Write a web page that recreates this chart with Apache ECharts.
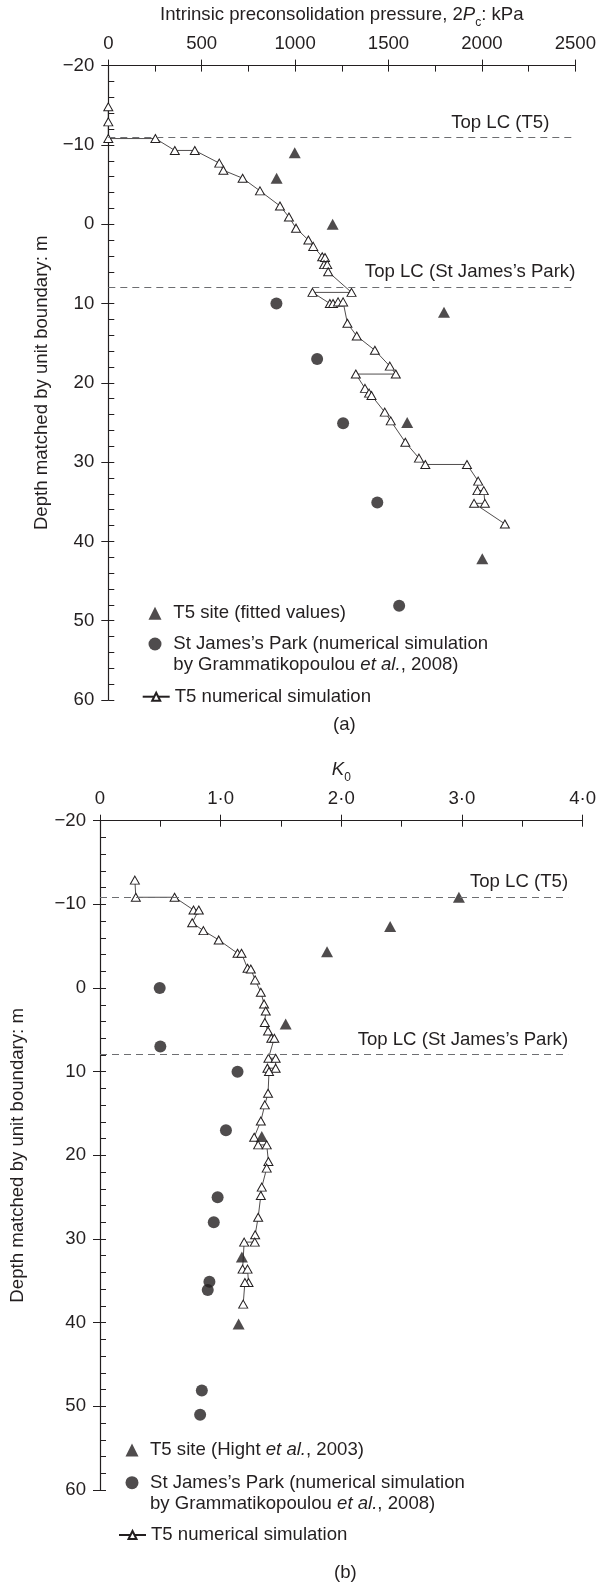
<!DOCTYPE html>
<html>
<head>
<meta charset="utf-8">
<script src="https://cdn.jsdelivr.net/npm/echarts@6/dist/echarts.min.js"></script>
<style>
  html, body { margin: 0; padding: 0; background: #fff; }
  #myChart { width: 599px; height: 1586px; }
</style>
</head>
<body>
<div id="myChart"></div>
<script>
// (a) intrinsic preconsolidation pressure 2Pc (kPa) vs depth (m)
const pcSimA = [[0,-14.8],[0,-12.9],[0,-10.8],[252,-10.8],[356,-9.3],[463,-9.3],[594,-7.7],[616,-6.8],[719,-5.8],[812,-4.2],
  [919,-2.3],[967,-0.9],[1005,0.5],[1071,2.0],[1097,2.8],[1145,4.1],[1160,4.2],[1155,5.1],[1172,5.1],[1177,6.0],
  [1302,8.6],[1093,8.6],[1186,10.0],[1203,10.0],[1230,9.8],[1257,9.8],[1280,12.5],[1330,14.1],[1427,15.9],[1507,17.9],
  [1539,18.9],[1325,18.9],[1374,20.7],[1396,21.3],[1409,21.6],[1480,23.7],[1512,24.8],[1590,27.5],[1663,29.5],[1697,30.3],
  [1920,30.3],[1980,32.4],[1976,33.6],[2010,33.6],[2016,35.2],[1958,35.2],[2123,37.8]];
const pcFitA = [[998,-9.0],[901,-5.8],[1201,0],[1797,11.1],[1600,25.0],[2002,42.2]];
const pcSjpA = [[900,10.0],[1118,17.0],[1257,25.1],[1440,35.1],[1557,48.1]];
const topLcA = [-11.0, 7.9];

// (b) K0 vs depth (m)
const k0SimB = [[0.289,-12.9],[0.297,-10.85],[0.618,-10.85],[0.775,-9.33],[0.819,-9.33],[0.764,-7.81],[0.857,-6.86],[0.984,-5.75],
  [1.140,-4.15],[1.173,-4.15],[1.223,-2.36],[1.250,-2.28],[1.286,-0.97],[1.333,0.5],[1.360,1.9],[1.374,2.74],[1.366,4.13],
  [1.393,5.13],[1.420,6.0],[1.445,6.0],[1.396,8.39],[1.456,8.39],[1.456,9.58],[1.388,9.58],[1.401,9.98],[1.393,12.57],
  [1.366,13.97],[1.333,15.9],[1.278,17.83],[1.311,18.75],[1.382,18.75],[1.396,20.74],[1.382,21.53],[1.341,23.8],[1.333,24.8],
  [1.311,27.4],[1.286,29.5],[1.283,30.37],[1.195,30.37],[1.182,33.6],[1.223,33.6],[1.231,35.2],[1.201,35.2],[1.187,37.78]];
const k0HightB = [[2.975,-10.85],[2.405,-7.34],[1.882,-4.35],[1.539,4.29],[1.341,17.75],[1.176,32.16],[1.149,40.17]];
const k0SjpB = [[0.495,0],[0.5,7.0],[1.140,10.0],[1.044,17.0],[0.975,25.0],[0.943,28.0],[0.907,35.1],[0.893,36.1],[0.844,48.1],[0.830,51.0]];
const topLcB = [-10.9, 7.9];

const depthTicks = [-20, 60, 10];
const pcTicks = [0, 2500, 500];
const k0Ticks = [0, 4, 1];

const FONT = 'Liberation Sans, Arial, sans-serif';
const FS = 18.6;
const INK = '#231f20';

const nSimA = 'T5 numerical simulation';
const nFitA = 'T5 site (fitted values)';
const nSjp = "St James\u2019s Park (numerical simulation\nby Grammatikopoulou {i|et al.}, 2008)";
const nHightB = 'T5 site (Hight {i|et al.}, 2003)';

function depthLabel(v) { return v < 0 ? '\u2212' + Math.abs(v) : String(v); }
function pcLabel(v) { return String(v); }
function k0Label(v) { return v === 0 ? '0' : v.toFixed(1).replace('.', '\u00b7'); }

function mainX(grid, t, fmt, name, rich) {
  return {
    gridIndex: grid, type: 'value', position: 'top', min: t[0], max: t[1], interval: t[2],
    axisLine: { show: true, onZero: false, lineStyle: { color: INK, width: 1.2 } },
    axisTick: { show: true, inside: true, length: 6, lineStyle: { color: INK, width: 1 } },
    minorTick: { show: true, splitNumber: 2, length: 6, lineStyle: { color: INK, width: 1 } },
    splitLine: { show: false },
    axisLabel: { fontSize: FS, fontFamily: FONT, color: INK, margin: 12, formatter: fmt },
    name: name, nameLocation: 'middle', nameGap: 37,
    nameTextStyle: { fontSize: FS, fontFamily: FONT, color: INK, rich: rich }
  };
}
function overX(grid, t) {
  return {
    gridIndex: grid, type: 'value', position: 'top', min: t[0], max: t[1], interval: t[2],
    axisLine: { show: false, onZero: false },
    axisTick: { show: true, inside: false, length: 6, lineStyle: { color: INK, width: 1 } },
    axisLabel: { show: false }, splitLine: { show: false }
  };
}
function mainY(grid, gap) {
  return {
    gridIndex: grid, type: 'value', position: 'left', inverse: true,
    min: depthTicks[0], max: depthTicks[1], interval: depthTicks[2],
    axisLine: { show: true, onZero: false, lineStyle: { color: INK, width: 1.2 } },
    axisTick: { show: true, inside: true, length: 6, lineStyle: { color: INK, width: 1 } },
    minorTick: { show: true, splitNumber: 5, length: 6, lineStyle: { color: INK, width: 1 } },
    splitLine: { show: false },
    axisLabel: { fontSize: FS, fontFamily: FONT, color: INK, margin: 14, formatter: depthLabel },
    name: 'Depth matched by unit boundary: m', nameLocation: 'middle', nameGap: gap, nameRotate: 90,
    nameTextStyle: { fontSize: FS, fontFamily: FONT, color: INK }
  };
}
function overY(grid) {
  return {
    gridIndex: grid, type: 'value', position: 'left', inverse: true,
    min: depthTicks[0], max: depthTicks[1], interval: depthTicks[2],
    axisLine: { show: false, onZero: false },
    axisTick: { show: true, inside: false, length: 7, lineStyle: { color: INK, width: 1 } },
    axisLabel: { show: false }, splitLine: { show: false }
  };
}

function dashed(levels, xEnd, names, pads, dist) {
  return {
    silent: true, symbol: 'none',
    lineStyle: { type: [7, 5], color: '#6d6e71', width: 1.2 },
    label: { show: true, position: 'insideEndTop', formatter: '{b}', distance: dist,
      fontSize: FS, fontFamily: FONT, color: INK },
    data: levels.map(function (lv, i) {
      return [{ name: names[i], coord: [0, lv], label: { padding: pads[i] } }, { coord: [xEnd, lv] }];
    })
  };
}

function simSeries(xi, yi, data, ml) {
  return {
    name: nSimA, type: 'line', xAxisIndex: xi, yAxisIndex: yi, data: data,
    symbol: 'triangle', symbolSize: [9, 8], z: 3,
    itemStyle: { color: '#fff', borderColor: INK, borderWidth: 1 },
    lineStyle: { color: INK, width: 0.8 },
    markLine: ml
  };
}
function dotSeries(name, xi, yi, data, symbol, size) {
  return {
    name: name, type: 'scatter', xAxisIndex: xi, yAxisIndex: yi, data: data,
    symbol: symbol, symbolSize: size, z: 4, itemStyle: { color: INK }
  };
}

function legendItem(name, left, top, iw, ih, padTop, padLeft) {
  return {
    data: [name], left: left, top: top, orient: 'vertical', padding: 0,
    itemWidth: iw, itemHeight: ih, selectedMode: false,
    formatter: function (n) { return n; },
    textStyle: { fontSize: FS, fontFamily: FONT, color: INK, lineHeight: 21,
      padding: [padTop, 0, 0, padLeft], rich: { i: { fontStyle: 'italic', fontSize: FS, fontFamily: FONT, lineHeight: 21 } } }
  };
}

let myChart = echarts.init(document.getElementById('myChart'));
let option = {
  animation: false,
  backgroundColor: '#fff',
  textStyle: { fontFamily: FONT },
  grid: [
    { left: 108.3, top: 65.6, width: 469.7, height: 634.4 },
    { left: 100, top: 820.7, width: 485, height: 669.3 }
  ],
  xAxis: [
    mainX(0, pcTicks, pcLabel, 'Intrinsic preconsolidation pressure, 2{i|P}{sub|c}: kPa', {
      i: { fontStyle: 'italic', fontSize: FS, fontFamily: FONT, color: INK },
      sub: { fontSize: 12, fontFamily: FONT, color: INK, verticalAlign: 'bottom', lineHeight: 28 }
    }),
    overX(0, pcTicks),
    mainX(1, k0Ticks, k0Label, '{i|K}{sub|0}', {
      i: { fontStyle: 'italic', fontSize: FS, fontFamily: FONT, color: INK },
      sub: { fontSize: 12, fontFamily: FONT, color: INK, verticalAlign: 'bottom', lineHeight: 28 }
    }),
    overX(1, k0Ticks)
  ],
  yAxis: [mainY(0, 53), overY(0), mainY(1, 73), overY(1)],
  legend: [
    legendItem(nFitA, 148.5, 602.8, 13, 13, 0, 6.8),
    legendItem(nSjp, 148.5, 612.5, 13, 13, 21, 6.8),
    legendItem(nSimA, 141.7, 686.2, 27, 10, 0, 0),
    legendItem(nHightB, 125.5, 1439.5, 13, 13, 0, 6.5),
    legendItem(nSjp, 125.5, 1451.2, 13, 13, 21, 6.5),
    legendItem(nSimA, 118, 1524.5, 27, 10, 0, 0)
  ],
  series: [
    simSeries(0, 0, pcSimA, dashed(topLcA, pcTicks[1], ['Top LC (T5)', 'Top LC (St James\u2019s Park)'], [[0, 26, 0, 0], [0, 0, 0, 0]], [0, 5])),
    dotSeries(nFitA, 0, 0, pcFitA, 'triangle', [12, 11]),
    dotSeries(nSjp, 0, 0, pcSjpA, 'circle', 12),
    simSeries(2, 2, k0SimB, dashed(topLcB, 3.88, ['Top LC (T5)', 'Top LC (St James\u2019s Park)'], [[0, 0, 0, 0], [0, 0, 0, 0]], [0, 5])),
    dotSeries(nHightB, 2, 2, k0HightB, 'triangle', [12, 11]),
    dotSeries(nSjp, 2, 2, k0SjpB, 'circle', 12)
  ],
  graphic: [
    { type: 'text', left: 333, top: 715, style: { text: '(a)', fontSize: FS, fontFamily: FONT, fill: INK } },
    { type: 'text', left: 334, top: 1563, style: { text: '(b)', fontSize: FS, fontFamily: FONT, fill: INK } }
  ]
};
myChart.setOption(option);
</script>
</body>
</html>
